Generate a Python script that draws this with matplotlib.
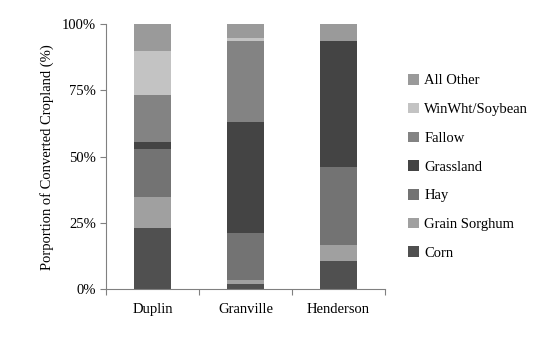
import matplotlib.pyplot as plt
from matplotlib.patches import Patch
from matplotlib.ticker import PercentFormatter

plt.rcParams['font.family'] = ['Liberation Serif', 'DejaVu Serif']

#### Data ####
counties = ["Duplin", "Granville", "Henderson"]
crops = ["Corn", "Grain Sorghum", "Hay", "Grassland", "Fallow", "WinWht/Soybean", "All Other"]
colors = ["#505050", "#a0a0a0", "#737373", "#444444", "#838383", "#c3c3c3", "#9a9a9a"]

# share of converted cropland (%) per crop, one list per crop in county order
corn = [23.1, 1.8, 10.7]
grain_sorghum = [11.6, 1.6, 5.9]
hay = [18.2, 17.7, 29.6]
grassland = [2.6, 41.9, 47.4]
fallow = [17.6, 30.7, 0.0]
winwht_soybean = [16.6, 1.1, 0.0]
all_other = [10.3, 5.2, 6.4]
values = [corn, grain_sorghum, hay, grassland, fallow, winwht_soybean, all_other]

#### Plot ####
fig = plt.figure(figsize=(5.58, 3.45), dpi=100)
ax = fig.add_axes([0.19, 0.162, 0.5, 0.768])

x = range(len(counties))
bottom = [0.0] * len(counties)
for name, vals, col in zip(crops, values, colors):
    ax.bar(x, vals, width=0.4, bottom=bottom, color=col, label=name)
    bottom = [b + v for b, v in zip(bottom, vals)]

# axes styling
ax.set_xlim(-0.5, 2.5)
ax.set_ylim(0, 100)
ax.set_yticks([0, 25, 50, 75, 100])
ax.yaxis.set_major_formatter(PercentFormatter(decimals=0))
ax.set_xticks([-0.5, 0.5, 1.5, 2.5], minor=False)
ax.set_xticklabels([])
ax.set_xticks(list(x), minor=True)
ax.set_xticklabels(counties, minor=True)
ax.tick_params(axis="x", which="minor", length=0, pad=10, labelsize=10.5)
ax.tick_params(axis="x", which="major", length=4, color="#808080")
ax.tick_params(axis="y", length=4, color="#808080", labelsize=10.5, pad=3)
for side in ["top", "right"]:
    ax.spines[side].set_visible(False)
for side in ["left", "bottom"]:
    ax.spines[side].set_color("#808080")
ax.set_ylabel("Porportion of Converted Cropland (%)", fontsize=10.5, labelpad=6)

# legend, top entry first
handles = [Patch(facecolor=c, edgecolor="none") for c in colors]
fig.legend(handles[::-1], crops[::-1], loc="center left", bbox_to_anchor=(0.708, 0.516),
           frameon=False, fontsize=10.5, handlelength=0.75, handleheight=0.75,
           handletextpad=0.35, labelspacing=1.05)

fig.savefig("out.png", dpi=100)
